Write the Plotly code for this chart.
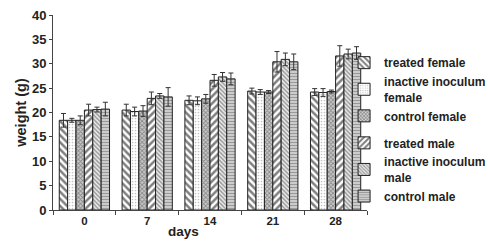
import plotly.graph_objects as go

days = ["0", "7", "14", "21", "28"]
series_names = ["treated female", "inactive inoculum<br>female", "control female",
                "treated male", "inactive inoculum<br>male", "control male"]
treated_female = [18.4, 20.5, 22.5, 24.4, 24.2]
treated_female_err = [1.4, 1.2, 0.9, 0.6, 0.7]
inactive_female = [18.4, 20.2, 22.4, 24.2, 24.1]
inactive_female_err = [0.4, 0.9, 0.8, 0.5, 0.8]
control_female = [18.4, 20.3, 22.8, 24.2, 24.3]
control_female_err = [0.9, 1.1, 0.9, 0.3, 0.3]
treated_male = [20.5, 22.9, 26.6, 30.4, 31.6]
treated_male_err = [1.2, 1.3, 1.2, 2.1, 2.1]
inactive_male = [20.6, 23.4, 27.3, 30.9, 32.0]
inactive_male_err = [0.5, 0.5, 0.9, 1.3, 1.0]
control_male = [20.7, 23.2, 26.9, 30.4, 32.2]
control_male_err = [1.4, 1.9, 1.2, 1.6, 1.3]

values = [treated_female, inactive_female, control_female, treated_male, inactive_male, control_male]
errors = [treated_female_err, inactive_female_err, control_female_err,
          treated_male_err, inactive_male_err, control_male_err]
groups = ["f", "f", "f", "m", "m", "m"]
patterns = [
    dict(shape="\\", fgcolor="#000000", bgcolor="white", size=5, solidity=0.5),
    dict(shape=".", fgcolor="#888888", bgcolor="white", size=3, solidity=0.25),
    dict(shape="x", fgcolor="#444444", bgcolor="#cccccc", size=3, solidity=0.5),
    dict(shape="/", fgcolor="#000000", bgcolor="white", size=5, solidity=0.5),
    dict(shape="\\", fgcolor="#444444", bgcolor="#eeeeee", size=3, solidity=0.5),
    dict(shape="-", fgcolor="#555555", bgcolor="#dddddd", size=3, solidity=0.5),
]

fig = go.Figure()
for name, v, e, g, p in zip(series_names, values, errors, groups, patterns):
    fig.add_trace(go.Bar(
        x=days, y=v, name=name, legendgroup=g,
        marker=dict(color="white", pattern=p, line=dict(color="#222222", width=1)),
        error_y=dict(type="data", array=e, visible=True, color="#333333", thickness=1, width=2.5),
    ))

font = "Liberation Sans, Arial, sans-serif"
fig.update_layout(
    width=488, height=248,
    margin=dict(l=53, r=121, t=15, b=38, autoexpand=False),
    paper_bgcolor="white", plot_bgcolor="white",
    barmode="group", bargap=0.2, bargroupgap=0,
    font=dict(family=font, size=12, color="#222222"),
    showlegend=True,
    legend=dict(x=0.927, xanchor="left", y=0.83, yanchor="top",
                bgcolor="rgba(0,0,0,0)", traceorder="grouped", tracegroupgap=8,
                font=dict(family=font, size=12, color="#222222", weight="bold"),
                itemwidth=30),
    xaxis=dict(showline=True, linecolor="#444444", linewidth=1, ticks="outside",
               tickson="boundaries", ticklen=4, tickcolor="#444444",
               tickfont=dict(family=font, size=11.5, weight="bold"), showgrid=False),
    yaxis=dict(range=[0, 40], dtick=5, showline=True, linecolor="#444444", linewidth=1,
               ticks="outside", ticklen=3, tickcolor="#444444", showgrid=False, zeroline=False,
               tickfont=dict(family=font, size=13, weight="bold"),
               title=dict(text="weight (g)", font=dict(family=font, size=14.5, weight="bold"), standoff=1)),
)
fig.add_annotation(text="days", xref="paper", yref="paper", x=(183 - 53) / 314, y=-0.06,
                   xanchor="center", yanchor="top", showarrow=False,
                   font=dict(family=font, size=13.5, color="#222222", weight="bold"))
fig.write_html("out.html", post_script="document.body.style.margin='0';",
               config={"displayModeBar": False})
